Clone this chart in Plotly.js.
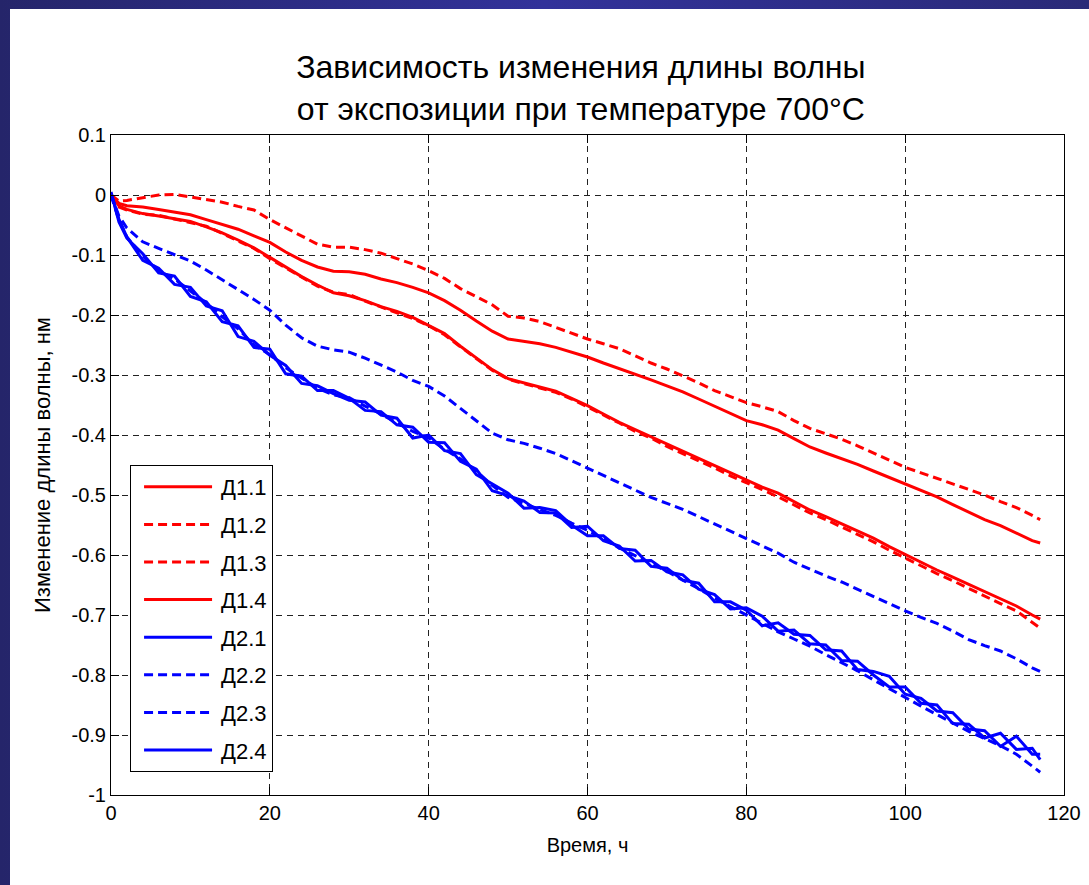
<!DOCTYPE html>
<html>
<head>
<meta charset="utf-8">
<script src="https://cdn.plot.ly/plotly-3.0.1.min.js"></script>
<style>
  html, body { margin: 0; padding: 0; }
  body {
    width: 1089px; height: 885px; overflow: hidden;
    background: linear-gradient(90deg, #25256a 0%, #32329a 50%, #2a2a78 100%);
    position: relative;
  }
  #frame { position: absolute; left: 10px; top: 9px; width: 1079px; height: 876px; background: #ffffff; }
  #chart { width: 1079px; height: 876px; }
</style>
</head>
<body>
<div id="frame"><div id="chart"></div></div>
<script>
// Time, hours
const t = [0,1,2,4,6,8,10,12,14,16,18,20,22,24,26,28,30,32,34,36,38,40,42,44,46,48,50,52,54,56,58,60,62,64,66,68,70,72,74,76,78,80,82,84,86,88,90,92,94,96,98,100,102,104,106,108,110,112,114,116,117];

// Wavelength change, nm
const d11 = [0,-0.014,-0.018,-0.020,-0.024,-0.029,-0.033,-0.041,-0.049,-0.057,-0.068,-0.079,-0.095,-0.109,-0.120,-0.127,-0.128,-0.132,-0.140,-0.146,-0.154,-0.163,-0.176,-0.192,-0.210,-0.227,-0.240,-0.244,-0.248,-0.254,-0.262,-0.270,-0.280,-0.289,-0.298,-0.308,-0.318,-0.328,-0.340,-0.352,-0.364,-0.376,-0.383,-0.392,-0.406,-0.420,-0.430,-0.439,-0.449,-0.460,-0.471,-0.481,-0.492,-0.503,-0.516,-0.529,-0.541,-0.551,-0.563,-0.576,-0.580];
const d12 = [0,-0.010,-0.009,-0.004,0.000,0.001,-0.003,-0.008,-0.012,-0.019,-0.025,-0.041,-0.055,-0.068,-0.082,-0.087,-0.087,-0.091,-0.097,-0.106,-0.115,-0.126,-0.139,-0.156,-0.170,-0.183,-0.202,-0.205,-0.211,-0.221,-0.231,-0.240,-0.248,-0.256,-0.268,-0.280,-0.290,-0.301,-0.313,-0.326,-0.336,-0.346,-0.353,-0.361,-0.376,-0.389,-0.398,-0.407,-0.418,-0.430,-0.442,-0.454,-0.463,-0.472,-0.481,-0.490,-0.500,-0.511,-0.521,-0.534,-0.541];
const d13 = [0,-0.020,-0.025,-0.032,-0.034,-0.040,-0.045,-0.052,-0.064,-0.076,-0.089,-0.106,-0.121,-0.137,-0.152,-0.162,-0.166,-0.177,-0.187,-0.196,-0.206,-0.218,-0.233,-0.253,-0.273,-0.292,-0.307,-0.314,-0.321,-0.329,-0.340,-0.353,-0.366,-0.380,-0.394,-0.405,-0.419,-0.431,-0.442,-0.455,-0.468,-0.479,-0.491,-0.503,-0.517,-0.530,-0.541,-0.553,-0.566,-0.578,-0.592,-0.605,-0.619,-0.631,-0.643,-0.656,-0.669,-0.681,-0.693,-0.712,-0.722];
const d14 = [0,-0.018,-0.024,-0.031,-0.035,-0.039,-0.044,-0.053,-0.063,-0.075,-0.088,-0.104,-0.120,-0.136,-0.150,-0.163,-0.168,-0.176,-0.186,-0.194,-0.204,-0.217,-0.231,-0.252,-0.272,-0.291,-0.306,-0.313,-0.319,-0.327,-0.339,-0.351,-0.365,-0.379,-0.391,-0.403,-0.416,-0.428,-0.439,-0.451,-0.463,-0.475,-0.487,-0.497,-0.511,-0.525,-0.536,-0.548,-0.560,-0.572,-0.586,-0.599,-0.613,-0.625,-0.637,-0.649,-0.661,-0.672,-0.685,-0.700,-0.707];
const d21 = [0.003,-0.040,-0.070,-0.109,-0.122,-0.149,-0.154,-0.185,-0.193,-0.236,-0.244,-0.267,-0.284,-0.314,-0.318,-0.331,-0.342,-0.345,-0.367,-0.372,-0.405,-0.400,-0.426,-0.431,-0.466,-0.481,-0.497,-0.522,-0.521,-0.526,-0.550,-0.568,-0.568,-0.589,-0.592,-0.619,-0.622,-0.642,-0.647,-0.678,-0.678,-0.692,-0.718,-0.713,-0.732,-0.734,-0.758,-0.760,-0.791,-0.794,-0.802,-0.832,-0.839,-0.860,-0.863,-0.890,-0.893,-0.919,-0.902,-0.932,-0.932];
const d22 = [0,-0.035,-0.055,-0.078,-0.089,-0.099,-0.110,-0.125,-0.141,-0.157,-0.174,-0.192,-0.217,-0.238,-0.252,-0.258,-0.262,-0.272,-0.283,-0.295,-0.309,-0.319,-0.335,-0.356,-0.376,-0.397,-0.408,-0.414,-0.422,-0.431,-0.443,-0.455,-0.467,-0.479,-0.492,-0.504,-0.514,-0.524,-0.536,-0.548,-0.561,-0.573,-0.585,-0.597,-0.612,-0.624,-0.635,-0.645,-0.657,-0.669,-0.682,-0.693,-0.704,-0.714,-0.727,-0.741,-0.751,-0.760,-0.773,-0.788,-0.794];
const d23 = [0,-0.042,-0.070,-0.102,-0.126,-0.140,-0.160,-0.180,-0.203,-0.223,-0.250,-0.266,-0.288,-0.305,-0.322,-0.333,-0.338,-0.352,-0.365,-0.380,-0.394,-0.405,-0.424,-0.440,-0.460,-0.484,-0.504,-0.514,-0.524,-0.534,-0.547,-0.559,-0.573,-0.588,-0.601,-0.614,-0.627,-0.642,-0.656,-0.672,-0.686,-0.700,-0.713,-0.728,-0.740,-0.752,-0.766,-0.779,-0.793,-0.808,-0.823,-0.838,-0.852,-0.866,-0.880,-0.894,-0.906,-0.918,-0.932,-0.951,-0.962];
const d24 = [0.005,-0.045,-0.072,-0.098,-0.130,-0.135,-0.169,-0.178,-0.211,-0.218,-0.254,-0.257,-0.298,-0.302,-0.326,-0.326,-0.339,-0.359,-0.361,-0.383,-0.387,-0.412,-0.413,-0.444,-0.457,-0.493,-0.501,-0.510,-0.529,-0.530,-0.554,-0.552,-0.576,-0.585,-0.610,-0.609,-0.628,-0.633,-0.657,-0.666,-0.690,-0.688,-0.702,-0.727,-0.725,-0.748,-0.750,-0.776,-0.777,-0.800,-0.820,-0.820,-0.847,-0.850,-0.881,-0.882,-0.905,-0.897,-0.924,-0.922,-0.941];

const seriesNames = ["Д1.1","Д1.2","Д1.3","Д1.4","Д2.1","Д2.2","Д2.3","Д2.4"];
const seriesData = [d11,d12,d13,d14,d21,d22,d23,d24];
const seriesColors = ["#ff0000","#ff0000","#ff0000","#ff0000","#0000ff","#0000ff","#0000ff","#0000ff"];
const seriesDash = ["solid","9px,5px","9px,5px","solid","solid","9px,5px","9px,5px","solid"];

const xTicks = [0,20,40,60,80,100,120];
const yTickVals = [0.1,0,-0.1,-0.2,-0.3,-0.4,-0.5,-0.6,-0.7,-0.8,-0.9,-1];
const yTickText = ["0.1","0","-0.1","-0.2","-0.3","-0.4","-0.5","-0.6","-0.7","-0.8","-0.9","-1"];

const FONT = "Liberation Sans, Arial, sans-serif";

const traces = seriesNames.map((n, i) => ({
  type: "scatter", mode: "lines", name: n, legendgroup: "g" + i,
  x: t, y: seriesData[i],
  line: { color: seriesColors[i], width: 3, dash: seriesDash[i] }
}));

const axisCommon = {
  showline: true, linecolor: "#000", linewidth: 1, mirror: "ticks",
  ticks: "inside", ticklen: 8, tickcolor: "#000", tickwidth: 1,
  showgrid: true, gridcolor: "#222", gridwidth: 1, griddash: "6px,5px",
  zeroline: false,
  tickfont: { family: FONT, size: 20, color: "#000" }
};

const layout = {
  width: 1079, height: 876,
  paper_bgcolor: "#ffffff", plot_bgcolor: "#ffffff",
  margin: { l: 101, r: 25, t: 126, b: 90 },
  showlegend: true,
  title: {
    text: "Зависимость изменения длины волны<br>от экспозиции при температуре 700°C",
    font: { family: FONT, size: 32, color: "#000" },
    x: 0.493, xanchor: "center", xref: "paper",
    y: 0.921, yanchor: "top", yref: "container"
  },
  xaxis: Object.assign({}, axisCommon, {
    range: [0, 120], tickvals: xTicks, ticktext: xTicks.map(String),
    title: { text: "Время, ч", font: { family: FONT, size: 20, color: "#000" }, standoff: 14 }
  }),
  yaxis: Object.assign({}, axisCommon, {
    range: [-1, 0.1], tickvals: yTickVals, ticktext: yTickText,
    title: { text: "Изменение длины волны, нм", font: { family: FONT, size: 22, color: "#000" }, standoff: 14 }
  }),
  legend: {
    x: 0.02, y: 0.5, xanchor: "left", yanchor: "top",
    bgcolor: "#ffffff", bordercolor: "#000", borderwidth: 1,
    font: { family: FONT, size: 22, color: "#000" },
    itemwidth: 80, tracegroupgap: 6
  }
};

Plotly.newPlot("chart", traces, layout, { displayModeBar: false, staticPlot: true }).then(gd => {
  // lengthen legend line samples to match the original legend
  gd.querySelectorAll(".legendlines path").forEach(p => p.setAttribute("d", "M13,0h68"));
});
</script>
</body>
</html>
